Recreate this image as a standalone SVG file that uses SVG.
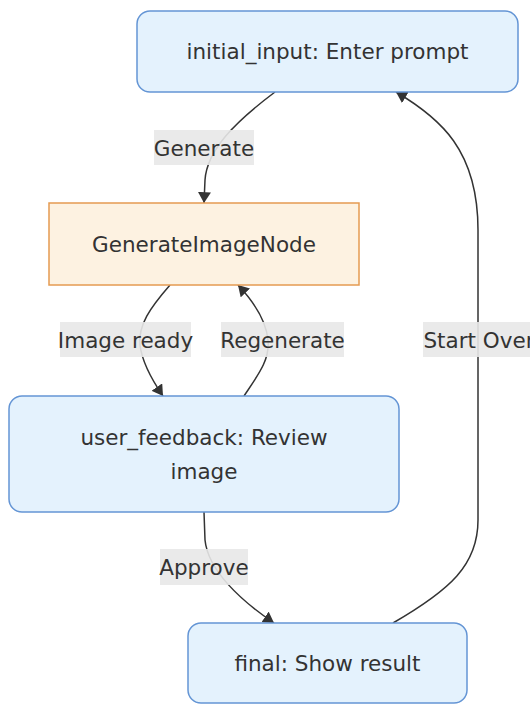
<svg xmlns="http://www.w3.org/2000/svg" width="530" height="713" viewBox="0 0 530 713">
<defs>
<style>
.node-blue rect{fill:#e4f2fd;stroke:#6495d5;stroke-width:1.5}
.node-orange rect{fill:#fdf2e1;stroke:#e59b51;stroke-width:1.5}
text{font-family:"DejaVu Sans","Open Sans",sans-serif;font-size:21.5px;fill:#333333;text-anchor:middle;dominant-baseline:central}
.edge{fill:none;stroke:#333333;stroke-width:1.5}
.lbl rect{fill:#e8e8e8;opacity:0.9}
</style>
<marker id="arrow" viewBox="0 0 10 12" refX="10" refY="6" markerWidth="11" markerHeight="13" markerUnits="userSpaceOnUse" orient="auto">
<path d="M0,0 L10,6 L0,12 z" fill="#333333"/>
</marker>
</defs>
<g id="connectors">
<path class="edge" d="M275,92 C235,122 207,150 205,180 L204,203" marker-end="url(#arrow)"/>
<path class="edge" d="M170,285 C150,308 138,325 140,345 C142,362 152,380 163,396" marker-end="url(#arrow)"/>
<path class="edge" d="M244,396 C258,375 270,360 268,340 C266,320 254,302 238,285" marker-end="url(#arrow)"/>
<path class="edge" d="M204,512 L205,540 C208,570 240,600 274,623" marker-end="url(#arrow)"/>
<path class="edge" d="M393,623 C450,590 478,565 478,520 L478,230 C478,150 440,118 396,92" marker-end="url(#arrow)"/>
</g>
<g id="label-generate" class="lbl"><rect x="154" y="130" width="100" height="35"/><text x="204" y="148">Generate</text></g>
<g id="label-image-ready" class="lbl"><rect x="60" y="322" width="131" height="35"/><text x="125.5" y="340">Image ready</text></g>
<g id="label-regenerate" class="lbl"><rect x="221" y="322" width="123" height="35"/><text x="282.5" y="340">Regenerate</text></g>
<g id="label-start-over" class="lbl"><rect x="423" y="322" width="112" height="35"/><text x="479" y="340">Start Over</text></g>
<g id="label-approve" class="lbl"><rect x="160" y="549" width="88" height="36"/><text x="204" y="567">Approve</text></g>
<g id="node-initial-input" class="node-blue"><rect x="137" y="11" width="381" height="81" rx="13"/><text x="327.5" y="51">initial_input: Enter prompt</text></g>
<g id="node-generate-image" class="node-orange"><rect x="49" y="203" width="310" height="82"/><text x="204" y="244">GenerateImageNode</text></g>
<g id="node-user-feedback" class="node-blue"><rect x="9" y="396" width="390" height="116" rx="13"/><text x="204" y="437">user_feedback: Review</text><text x="204" y="471">image</text></g>
<g id="node-final" class="node-blue"><rect x="188" y="623" width="279" height="80" rx="13"/><text x="327.5" y="663">final: Show result</text></g>
</svg>
